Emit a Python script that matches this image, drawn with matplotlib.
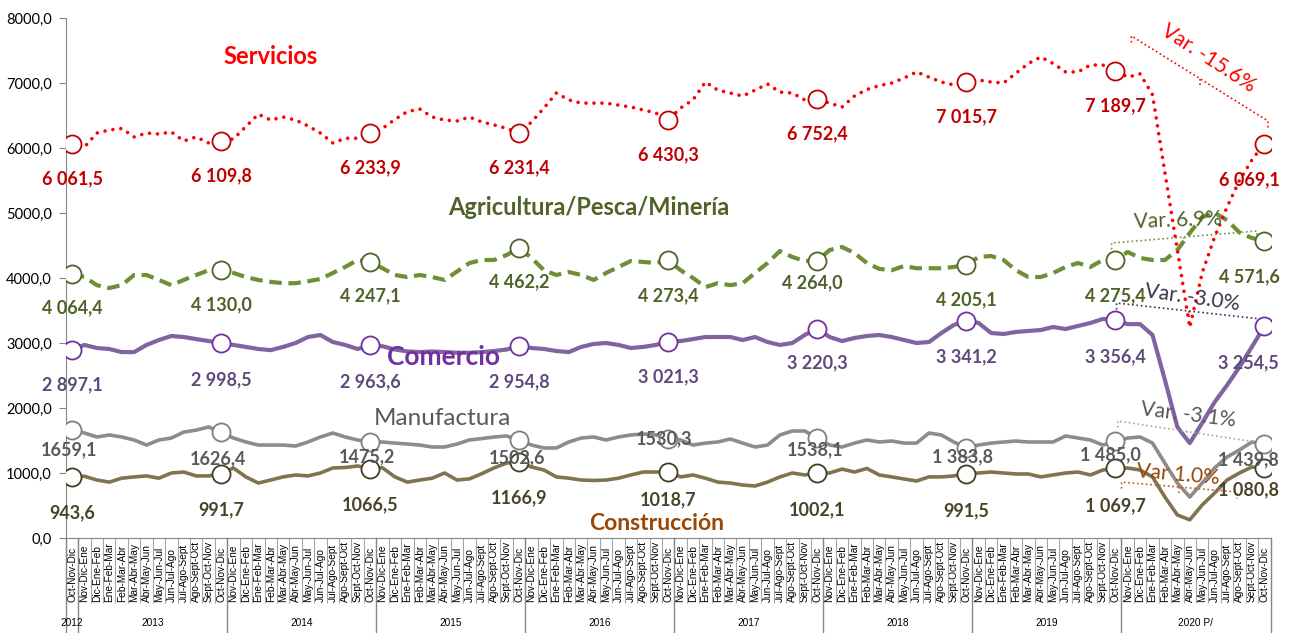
import numpy as np
import matplotlib
matplotlib.use('Agg')
import matplotlib.pyplot as plt
from matplotlib import font_manager

installed = {f.name for f in font_manager.fontManager.ttflist}
if 'Liberation Sans Narrow' in installed:
    narrow, nsize = 'Liberation Sans Narrow', 8.5
else:
    narrow, nsize = 'Liberation Sans', 7.3
plt.rcParams['font.family'] = ['Lato', 'DejaVu Sans']

# categories
months3 = ['Nov-Dic-Ene', 'Dic-Ene-Feb', 'Ene-Feb-Mar', 'Feb-Mar-Abr', 'Mar-Abr-May', 'Abr-May-Jun',
           'May-Jun-Jul', 'Jun-Jul-Ago', 'Jul-Ago-Sept', 'Ago-Sept-Oct', 'Sept-Oct-Nov', 'Oct-Nov-Dic']
categories = ['Oct-Nov-Dic'] + months3 * 8
years = ['2012', '2013', '2014', '2015', '2016', '2017', '2018', '2019', '2020 P/']

servicios = [6061.5, 6015, 6230, 6277, 6300, 6170, 6230, 6215, 6246, 6108, 6170, 6077,
             6109.8, 6140, 6330, 6520, 6430, 6477, 6430, 6340, 6230, 6077, 6150, 6150,
             6233.9, 6300, 6440, 6560, 6600, 6477, 6430, 6415, 6477, 6400, 6355, 6300,
             6231.4, 6400, 6615, 6846, 6740, 6690, 6690, 6690, 6660, 6630, 6585, 6540,
             6430.3, 6615, 6740, 7015, 6890, 6846, 6800, 6890, 6985, 6860, 6846, 6740,
             6752.4, 6690, 6630, 6800, 6900, 6960, 7000, 7077, 7170, 7090, 7015, 6970,
             7015.7, 7046, 7015, 7000, 7150, 7300, 7400, 7300, 7170, 7170, 7277, 7277,
             7189.7, 7090, 7140, 6820, 5620, 4430, 3240, 4080, 4630, 5090, 5500, 5815,
             6069.1]
agricultura = [4064.4, 4015, 3890, 3846, 3890, 4046, 4046, 3970, 3890, 3970, 4046, 4120,
               4130.0, 4077, 4015, 3970, 3940, 3920, 3920, 3950, 3985, 4077, 4170, 4277,
               4247.1, 4150, 4046, 4015, 4046, 4015, 3970, 4100, 4230, 4277, 4277, 4354,
               4462.2, 4308, 4120, 4046, 4092, 4046, 3970, 4077, 4170, 4262, 4247, 4230,
               4273.4, 4120, 4000, 3860, 3920, 3890, 3920, 4077, 4230, 4415, 4323, 4262,
               4264.0, 4430, 4477, 4385, 4230, 4140, 4120, 4185, 4150, 4150, 4150, 4170,
               4205.1, 4323, 4338, 4277, 4120, 4015, 4015, 4077, 4170, 4230, 4170, 4277,
               4275.4, 4400, 4308, 4277, 4277, 4430, 4692, 4938, 5000, 4890, 4700, 4615,
               4571.6]
comercio = [2897.1, 2970, 2923, 2908, 2860, 2860, 2970, 3046, 3108, 3092, 3060, 3030,
            2998.5, 2970, 2940, 2908, 2890, 2940, 3000, 3092, 3123, 3015, 2970, 2908,
            2963.6, 2950, 2900, 2870, 2860, 2870, 2860, 2850, 2850, 2860, 2877, 2900,
            2954.8, 2923, 2908, 2877, 2860, 2940, 2985, 3000, 2970, 2923, 2940, 2970,
            3021.3, 3030, 3060, 3092, 3092, 3092, 3046, 3092, 3015, 2970, 3000, 3123,
            3220.3, 3092, 3030, 3077, 3108, 3123, 3092, 3046, 3000, 3015, 3154, 3277,
            3341.2, 3308, 3154, 3138, 3170, 3185, 3200, 3246, 3215, 3262, 3308, 3370,
            3356.4, 3290, 3290, 3123, 2430, 1708, 1460, 1770, 2090, 2350, 2630, 2940,
            3254.5]
manufactura = [1659.1, 1615, 1554, 1585, 1554, 1508, 1430, 1508, 1538, 1630, 1660, 1708,
               1626.4, 1538, 1477, 1430, 1430, 1430, 1415, 1477, 1554, 1615, 1554, 1508,
               1475.2, 1477, 1460, 1446, 1430, 1400, 1400, 1446, 1508, 1530, 1554, 1570,
               1502.6, 1430, 1385, 1385, 1477, 1538, 1554, 1508, 1554, 1585, 1600, 1585,
               1530.3, 1508, 1430, 1460, 1477, 1523, 1460, 1400, 1430, 1585, 1646, 1646,
               1538.1, 1430, 1400, 1460, 1508, 1477, 1492, 1460, 1460, 1615, 1585, 1477,
               1383.8, 1430, 1460, 1477, 1492, 1477, 1477, 1477, 1570, 1538, 1508, 1430,
               1485.0, 1538, 1554, 1460, 1150, 846, 630, 846, 1077, 1246, 1354, 1477,
               1439.8]
construccion = [943.6, 950, 892, 860, 920, 940, 955, 920, 1000, 1015, 955, 955,
                991.7, 1077, 940, 846, 892, 940, 970, 955, 1000, 1077, 1085, 1108,
                1066.5, 1080, 940, 860, 892, 920, 1000, 892, 910, 990, 1080, 1154,
                1166.9, 1092, 1046, 940, 920, 892, 885, 892, 920, 970, 1015, 1015,
                1018.7, 940, 970, 920, 860, 846, 815, 800, 860, 940, 1000, 970,
                1002.1, 1000, 1060, 1015, 1070, 970, 940, 908, 877, 940, 940, 955,
                991.5, 1000, 1015, 1000, 985, 985, 940, 970, 1000, 1015, 970, 1046,
                1069.7, 1077, 1046, 940, 630, 354, 280, 508, 692, 892, 1000, 1092,
                1080.8]

lab_serv = ['6 061,5', '6 109,8', '6 233,9', '6 231,4', '6 430,3', '6 752,4', '7 015,7', '7 189,7', '6 069,1']
lab_agri = ['4 064,4', '4 130,0', '4 247,1', '4 462,2', '4 273,4', '4 264,0', '4 205,1', '4 275,4', '4 571,6']
lab_com = ['2 897,1', '2 998,5', '2 963,6', '2 954,8', '3 021,3', '3 220,3', '3 341,2', '3 356,4', '3 254,5']
lab_man = ['1659,1', '1626,4', '1475,2', '1502,6', '1530,3', '1538,1', '1 383,8', '1 485,0', '1 439,8']
lab_con = ['943,6', '991,7', '1066,5', '1166,9', '1018,7', '1002,1', '991,5', '1 069,7', '1 080,8']

x = np.arange(len(categories))
mk = x[::12]

fig = plt.figure(figsize=(12.93, 6.33), dpi=100)
ax = fig.add_axes([65.8 / 1293, 95 / 633, 1204.7 / 1293, 520 / 633])
ax.set_xlim(-0.5, 96.5)
ax.set_ylim(0, 8000)

# lines
ax.plot(x, construccion, color='#807450', lw=2.6, zorder=2)
ax.plot(x, manufactura, color='#8c8c8c', lw=2.6, zorder=2)
ax.plot(x, comercio, color='#8064a2', lw=3, zorder=3)
ax.plot(x, agricultura, color='#6f8f37', lw=3, ls=(0, (3, 1.6)), zorder=4)
ax.plot(x, servicios, color='#ff0000', lw=2.6, ls=(0, (0.01, 2.2)),
        dash_capstyle='round', zorder=6)

series = [
    (servicios, lab_serv, '#c00000', '#c00000'),
    (agricultura, lab_agri, '#4f6228', '#4f6228'),
    (comercio, lab_com, '#7030a0', '#604a7b'),
    (manufactura, lab_man, '#7f7f7f', '#595959'),
    (construccion, lab_con, '#3f3f26', '#494429'),
]
for vals, labs, mec, tc in series:
    v = np.array(vals)
    ax.plot(mk, v[mk], ls='none', marker='o', ms=13, mfc='white', mec=mec, mew=1.3, zorder=7)

# label offsets in pixels (dx, dy downward)
offsets = {
    0: [(0, 35)] * 8 + [(-15, 36)],
    1: [(0, 34), (0, 35), (0, 34), (0, 34), (0, 36), (-5, 22), (0, 35), (0, 36), (-15, 36)],
    2: [(0, 35), (0, 37), (0, 36), (0, 36), (0, 35), (0, 34), (0, 36), (0, 37), (-16, 36)],
    3: [(-3, 20), (-3, 26), (-3, 15), (-2, 17), (-4, 0), (-2, 12), (-4, 9), (-5, 13), (-16, 15)],
    4: [(0, 36), (0, 36), (0, 36), (0, 36), (0, 28), (0, 37), (0, 37), (0, 37), (-16, 22)],
}
for k, (vals, labs, mec, tc) in enumerate(series):
    for j, (i, t) in enumerate(zip(mk, labs)):
        dx, dy = offsets[k][j]
        ax.annotate(t, xy=(i, vals[i]), xytext=(dx * 0.72, -dy * 0.72), textcoords='offset points',
                    ha='center', va='center', fontsize=13, fontweight='bold', color=tc, zorder=8)

# series names
ax.text(16.0, 7400, 'Servicios', color='#ff0000', fontsize=17, fontweight='bold', ha='center', va='center')
ax.text(41.6, 5077, 'Agricultura/Pesca/Minería', color='#4f6228', fontsize=17, fontweight='bold',
        ha='center', va='center')
ax.text(29.95, 2785, 'Comercio', color='#7030a0', fontsize=19, fontweight='bold', ha='center', va='center')
ax.text(29.8, 1846, 'Manufactura', color='#595959', fontsize=17.5, ha='center', va='center')
ax.text(47.1, 230, 'Construcción', color='#974706', fontsize=16.5, fontweight='bold', ha='center', va='center')

# variation brackets
brackets = [
    ((85.3, 7723), (96.3, 6415), '#ff0000', 'Var. -15.6%', (91.5, 7385), -33, '#ff0000'),
    ((83.7, 4538), (95.4, 4723), '#77933c', 'Var. 6.9%', (89.0, 4892), 2, '#4f6228'),
    ((84.1, 3615), (95.7, 3370), '#3f3151', 'Var. -3.0%', (90.2, 3692), -8, '#3f3151'),
    ((84.2, 1800), (95.3, 1477), '#a6a6a6', 'Var. -3.1%', (89.9, 1892), -7, '#595959'),
    ((84.5, 860), (93.8, 708), '#c55a11', 'Var 1.0%', (89.05, 970), -5, '#984807'),
]
for (x0, y0), (x1, y1), lc, txt, (tx, ty), rot, tcol in brackets:
    xm, ym = (x0 + x1) / 2, (y0 + y1) / 2
    ax.plot([x0, x0, x1, x1], [y0 - 100, y0, y1, y1 - 100], color=lc, lw=1.2, ls=':', zorder=5)
    ax.plot([xm, xm], [ym, ym - 100], color=lc, lw=1.2, ls=':', zorder=5)
    ax.text(tx, ty, txt, color=tcol, fontsize=15, rotation=rot, ha='center', va='center',
            rotation_mode='anchor', zorder=9)

# axes styling
for s in ['top', 'right']:
    ax.spines[s].set_visible(False)
for s in ['left', 'bottom']:
    ax.spines[s].set_color('#868686')
ax.set_yticks(range(0, 8001, 1000))
ax.set_yticklabels([f'{v},0' for v in range(0, 8001, 1000)], fontsize=10.5)
ax.tick_params(axis='y', direction='out', length=5, color='#868686', pad=5)

ax.set_xticks(x)
ax.set_xticklabels(categories, rotation=90, fontsize=nsize, family=narrow, va='bottom')
ax.tick_params(axis='x', which='major', length=0, pad=46)
ax.set_xticks(np.arange(-0.5, 97, 1), minor=True)
ax.tick_params(axis='x', which='minor', length=47, color='#a6a6a6', width=0.8)

xt = ax.get_xaxis_transform()
for b in [-0.5, 0.5] + [12.5 + 12 * k for k in range(8)]:
    ax.plot([b, b], [0, -95 / 520], color='#868686', lw=1, transform=xt, clip_on=False)
year_pos = [0] + [6.5 + 12 * k for k in range(8)]
for yp, yl in zip(year_pos, years):
    ax.text(yp, -85 / 520, yl, transform=xt, ha='center', va='center', fontsize=nsize, family=narrow)

fig.savefig('out.png', dpi=100)
